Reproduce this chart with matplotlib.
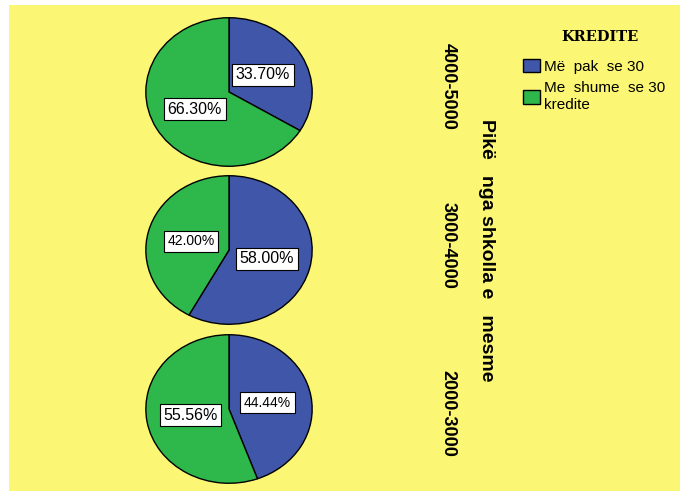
import matplotlib.pyplot as plt
from matplotlib.patches import Patch, Rectangle

# data
groups = ["4000-5000", "3000-4000", "2000-3000"]
pak = [33.70, 58.00, 44.44]      # Më pak se 30
shume = [66.30, 42.00, 55.56]    # Me shume se 30 kredite
legend_labels = ["Më  pak  se 30", "Me  shume  se 30\nkredite"]

blue = "#3f56a9"
green = "#2eb84b"
yellow = "#fbf673"

plt.rcParams['font.family'] = ['Liberation Sans', 'DejaVu Sans']

fig = plt.figure(figsize=(6.8, 4.91), dpi=100)
fig.patches.append(Rectangle((9/680, 0), 1 - 9/680, 1 - 5/491, transform=fig.transFigure,
                             facecolor=yellow, edgecolor="none", zorder=-10))

W, H = 680, 491
tops = [17, 175, 334]
group_y = [86, 245, 413]
label_sizes = [(11.5, 11.5), (11.5, 10), (10, 11.5)]
for i, top in enumerate(tops):
    ax = fig.add_axes([145/W, 1 - (top + 150)/H, 168/W, 150/H])
    wedges, texts, autotexts = ax.pie(
        [pak[i], shume[i]], colors=[blue, green], startangle=90, counterclock=False,
        autopct="%.2f%%", pctdistance=0.47,
        wedgeprops=dict(edgecolor="black", linewidth=1))
    for t, fs in zip(autotexts, label_sizes[i]):
        t.set_fontsize(fs)
        t.set_bbox(dict(facecolor="white", edgecolor="black", linewidth=0.8, pad=2.5))
    ax.set_aspect("auto")
    ax.set_xlim(-1.01, 1.01)
    ax.set_ylim(-1.01, 1.01)
    ax.axis("off")
    # category label on the right
    fig.text(448/W, 1 - group_y[i]/H, groups[i], rotation=-90, ha="center", va="center",
             fontsize=13, fontweight="bold")

fig.text(487/W, 1 - 250/H, "Pikë   nga shkolla e   mesme", rotation=-90, ha="center",
         va="center", fontsize=14, fontweight="bold")

fig.text(600/W, 1 - 37/H, "KREDITE", ha="center", va="center", family="DejaVu Serif",
         fontweight="bold", fontsize=10.5)

handles = [Patch(facecolor=blue, edgecolor="black"), Patch(facecolor=green, edgecolor="black")]
fig.legend(handles, legend_labels, loc="upper left", bbox_to_anchor=(509/W, 1 - 45/H),
           frameon=False, fontsize=11, handlelength=1.1, handleheight=1.0,
           handletextpad=0.3, labelspacing=0.5)

fig.savefig("out.png", dpi=100)
